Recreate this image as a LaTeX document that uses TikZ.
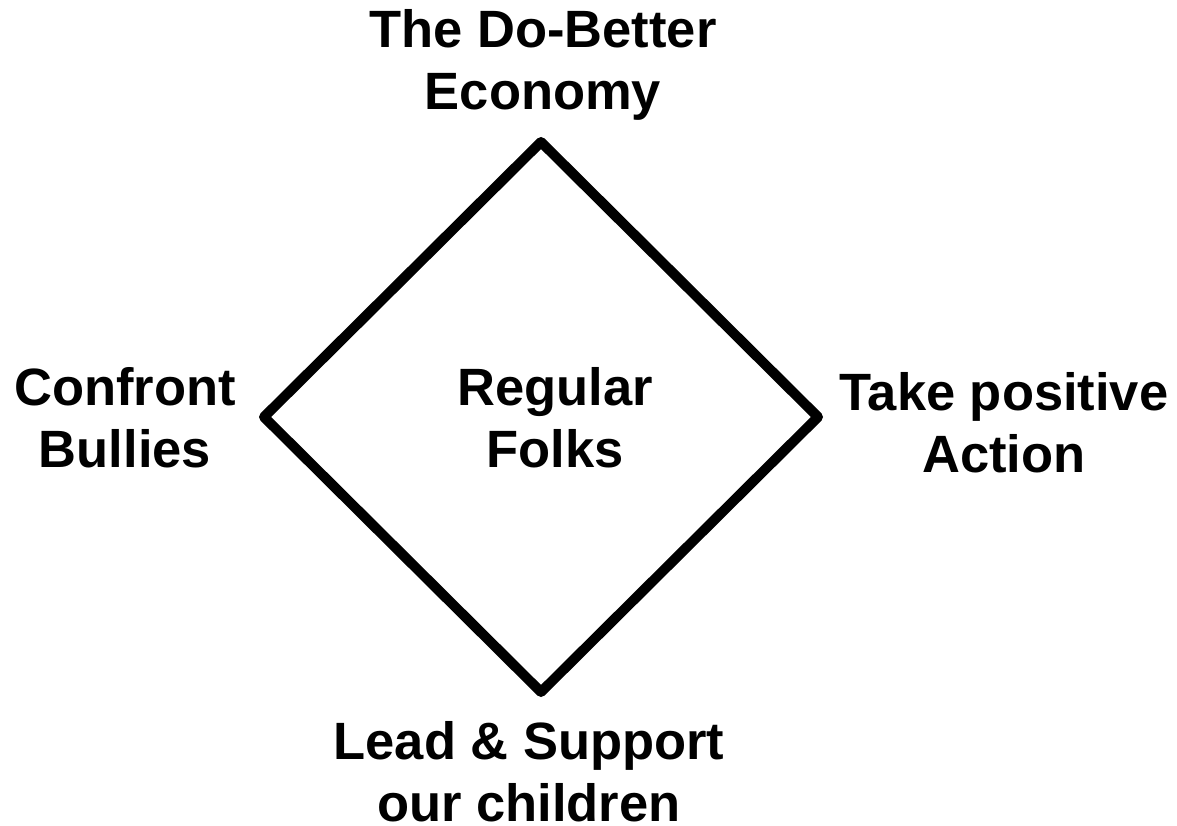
\documentclass[tikz,border=0pt]{standalone}
\usepackage{fontspec}
\setmainfont{Liberation Sans}
\begin{document}
\begin{tikzpicture}[x=1pt,y=-1pt,
  lbl/.style={align=center,inner sep=0pt,font=\fontsize{52.5}{62}\selectfont\bfseries},
  edge/.style={line width=10pt,line join=round,line cap=round}]
\useasboundingbox[fill=white] (0,0) rectangle (1177,826);
\coordinate (T) at (541,142);
\coordinate (R) at (818,417);
\coordinate (B) at (541,692);
\coordinate (L) at (264,417);
\draw[edge] (T) -- (R) -- (B) -- (L) -- cycle;
\node[lbl] (top) at (543,65) {The Do-Better\\Economy};
\node[lbl] (left) at (125,418) {Confront\\Bullies};
\node[lbl] (mid) at (555,418) {Regular\\Folks};
\node[lbl] (right) at (1004,423) {Take positive\\Action};
\node[lbl] (bot) at (529,772) {Lead \& Support\\our children};
\end{tikzpicture}
\end{document}
